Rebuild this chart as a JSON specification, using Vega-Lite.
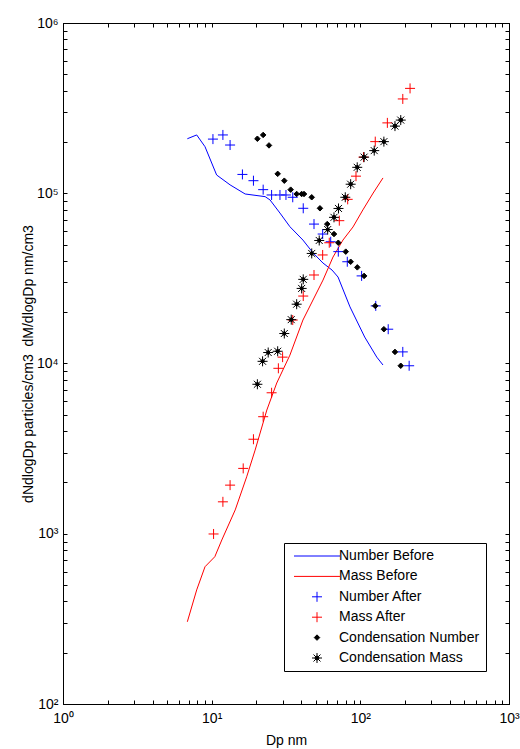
{
  "$schema": "https://vega.github.io/schema/vega-lite/v6.json",
  "width": 446,
  "height": 681,
  "autosize": {"type": "none"},
  "padding": {"left": 63, "top": 23, "right": 11, "bottom": 45},
  "background": "white",
  "config": {
    "font": "Liberation Sans",
    "view": {"stroke": "black", "strokeWidth": 1},
    "axis": {
      "grid": false,
      "domainColor": "black",
      "domainWidth": 1,
      "tickColor": "black",
      "tickWidth": 1,
      "tickSize": -4,
      "labelColor": "black",
      "titleColor": "black",
      "labelFont": "Liberation Sans",
      "titleFont": "Liberation Sans",
      "labelFontSize": 14,
      "titleFontSize": 14,
      "titleFontWeight": "normal",
      "labelFlush": false,
      "labelOverlap": false,
      "labelBound": false
    },
    "legend": {
      "orient": "none",
      "legendX": 221,
      "legendY": 520,
      "strokeColor": "black",
      "fillColor": "white",
      "padding": 6,
      "labelFont": "Liberation Sans",
      "labelFontSize": 14,
      "labelColor": "black",
      "labelLimit": 400,
      "symbolSize": 100,
      "symbolStrokeWidth": 1,
      "rowPadding": 6.4,
      "labelOffset": 15,
      "symbolOffset": 20
    }
  },
  "datasets": {
    "d": [
      {"series": "Number Before", "dp": 6.86, "value": 209000},
      {"series": "Number Before", "dp": 7.93, "value": 220000},
      {"series": "Number Before", "dp": 9.02, "value": 187700},
      {"series": "Number Before", "dp": 10.8, "value": 128000},
      {"series": "Number Before", "dp": 13.3, "value": 112000},
      {"series": "Number Before", "dp": 16.8, "value": 99000},
      {"series": "Number Before", "dp": 22.9, "value": 95500},
      {"series": "Number Before", "dp": 24.7, "value": 91300},
      {"series": "Number Before", "dp": 28.8, "value": 76500},
      {"series": "Number Before", "dp": 33.6, "value": 63600},
      {"series": "Number Before", "dp": 41.1, "value": 53100},
      {"series": "Number Before", "dp": 48.1, "value": 44600},
      {"series": "Number Before", "dp": 56.1, "value": 38900},
      {"series": "Number Before", "dp": 64.5, "value": 35400},
      {"series": "Number Before", "dp": 70.8, "value": 32200},
      {"series": "Number Before", "dp": 85.2, "value": 21500},
      {"series": "Number Before", "dp": 107, "value": 14300},
      {"series": "Number Before", "dp": 129, "value": 10900},
      {"series": "Number Before", "dp": 142, "value": 9800},
      {"series": "Mass Before", "dp": 6.86, "value": 304},
      {"series": "Mass Before", "dp": 7.93, "value": 468},
      {"series": "Mass Before", "dp": 9.02, "value": 640},
      {"series": "Mass Before", "dp": 10.5, "value": 733},
      {"series": "Mass Before", "dp": 11.7, "value": 919},
      {"series": "Mass Before", "dp": 14.4, "value": 1380},
      {"series": "Mass Before", "dp": 17.2, "value": 2160},
      {"series": "Mass Before", "dp": 19.6, "value": 3100},
      {"series": "Mass Before", "dp": 23.5, "value": 5330},
      {"series": "Mass Before", "dp": 27.4, "value": 7680},
      {"series": "Mass Before", "dp": 33.6, "value": 11200},
      {"series": "Mass Before", "dp": 41.1, "value": 18000},
      {"series": "Mass Before", "dp": 56.1, "value": 30900},
      {"series": "Mass Before", "dp": 65.5, "value": 42200},
      {"series": "Mass Before", "dp": 76.4, "value": 53100},
      {"series": "Mass Before", "dp": 89.3, "value": 63400},
      {"series": "Mass Before", "dp": 104, "value": 79800},
      {"series": "Mass Before", "dp": 122, "value": 100300},
      {"series": "Mass Before", "dp": 142, "value": 123000},
      {"series": "Number After", "dp": 10.2, "value": 208000},
      {"series": "Number After", "dp": 11.9, "value": 220000},
      {"series": "Number After", "dp": 13.3, "value": 192000},
      {"series": "Number After", "dp": 16.1, "value": 129000},
      {"series": "Number After", "dp": 19.1, "value": 118500},
      {"series": "Number After", "dp": 22.2, "value": 105000},
      {"series": "Number After", "dp": 25.3, "value": 97700},
      {"series": "Number After", "dp": 28.8, "value": 97700},
      {"series": "Number After", "dp": 31.6, "value": 97700},
      {"series": "Number After", "dp": 35.1, "value": 94700},
      {"series": "Number After", "dp": 41.3, "value": 81600},
      {"series": "Number After", "dp": 48.8, "value": 65900},
      {"series": "Number After", "dp": 55.8, "value": 57600},
      {"series": "Number After", "dp": 63.2, "value": 51900},
      {"series": "Number After", "dp": 71.1, "value": 45400},
      {"series": "Number After", "dp": 81.7, "value": 39600},
      {"series": "Number After", "dp": 102, "value": 32700},
      {"series": "Number After", "dp": 127, "value": 21800},
      {"series": "Number After", "dp": 154, "value": 15900},
      {"series": "Number After", "dp": 193, "value": 11700},
      {"series": "Number After", "dp": 213, "value": 9700},
      {"series": "Mass After", "dp": 10.3, "value": 997},
      {"series": "Mass After", "dp": 11.9, "value": 1540},
      {"series": "Mass After", "dp": 13.3, "value": 1930},
      {"series": "Mass After", "dp": 16.3, "value": 2420},
      {"series": "Mass After", "dp": 19.1, "value": 3590},
      {"series": "Mass After", "dp": 22.2, "value": 4870},
      {"series": "Mass After", "dp": 25.3, "value": 6730},
      {"series": "Mass After", "dp": 28.1, "value": 9370},
      {"series": "Mass After", "dp": 30.0, "value": 10900},
      {"series": "Mass After", "dp": 35.1, "value": 18000},
      {"series": "Mass After", "dp": 41.3, "value": 24900},
      {"series": "Mass After", "dp": 48.8, "value": 33100},
      {"series": "Mass After", "dp": 55.8, "value": 43400},
      {"series": "Mass After", "dp": 61.8, "value": 51200},
      {"series": "Mass After", "dp": 72.2, "value": 69000},
      {"series": "Mass After", "dp": 82.2, "value": 92100},
      {"series": "Mass After", "dp": 93.5, "value": 126000},
      {"series": "Mass After", "dp": 105, "value": 163000},
      {"series": "Mass After", "dp": 126, "value": 201000},
      {"series": "Mass After", "dp": 152, "value": 259000},
      {"series": "Mass After", "dp": 193, "value": 358000},
      {"series": "Mass After", "dp": 216, "value": 413000},
      {"series": "Condensation Number", "dp": 20.3, "value": 209000},
      {"series": "Condensation Number", "dp": 22.2, "value": 220000},
      {"series": "Condensation Number", "dp": 24.3, "value": 191000},
      {"series": "Condensation Number", "dp": 27.8, "value": 130000},
      {"series": "Condensation Number", "dp": 30.8, "value": 118500},
      {"series": "Condensation Number", "dp": 34.0, "value": 105000},
      {"series": "Condensation Number", "dp": 37.3, "value": 99000},
      {"series": "Condensation Number", "dp": 40.3, "value": 99000},
      {"series": "Condensation Number", "dp": 41.8, "value": 99000},
      {"series": "Condensation Number", "dp": 47.1, "value": 94700},
      {"series": "Condensation Number", "dp": 53.5, "value": 81600},
      {"series": "Condensation Number", "dp": 59.9, "value": 65900},
      {"series": "Condensation Number", "dp": 66.5, "value": 57600},
      {"series": "Condensation Number", "dp": 71.1, "value": 51200},
      {"series": "Condensation Number", "dp": 79.8, "value": 45400},
      {"series": "Condensation Number", "dp": 86.1, "value": 39600},
      {"series": "Condensation Number", "dp": 95.4, "value": 36700},
      {"series": "Condensation Number", "dp": 106, "value": 32700},
      {"series": "Condensation Number", "dp": 126, "value": 21800},
      {"series": "Condensation Number", "dp": 144, "value": 15900},
      {"series": "Condensation Number", "dp": 171, "value": 11700},
      {"series": "Condensation Number", "dp": 187, "value": 9700},
      {"series": "Condensation Mass", "dp": 20.3, "value": 7550},
      {"series": "Condensation Mass", "dp": 22.0, "value": 10300},
      {"series": "Condensation Mass", "dp": 24.0, "value": 11600},
      {"series": "Condensation Mass", "dp": 27.8, "value": 11800},
      {"series": "Condensation Mass", "dp": 30.8, "value": 15000},
      {"series": "Condensation Mass", "dp": 34.3, "value": 18100},
      {"series": "Condensation Mass", "dp": 37.3, "value": 22300},
      {"series": "Condensation Mass", "dp": 40.3, "value": 27600},
      {"series": "Condensation Mass", "dp": 41.3, "value": 31200},
      {"series": "Condensation Mass", "dp": 47.1, "value": 44300},
      {"series": "Condensation Mass", "dp": 52.9, "value": 52800},
      {"series": "Condensation Mass", "dp": 60.3, "value": 61200},
      {"series": "Condensation Mass", "dp": 66.5, "value": 72200},
      {"series": "Condensation Mass", "dp": 71.3, "value": 81400},
      {"series": "Condensation Mass", "dp": 79.2, "value": 94700},
      {"series": "Condensation Mass", "dp": 86.1, "value": 113000},
      {"series": "Condensation Mass", "dp": 95.3, "value": 142000},
      {"series": "Condensation Mass", "dp": 106, "value": 163000},
      {"series": "Condensation Mass", "dp": 124, "value": 178000},
      {"series": "Condensation Mass", "dp": 144, "value": 201000},
      {"series": "Condensation Mass", "dp": 171, "value": 248000},
      {"series": "Condensation Mass", "dp": 187, "value": 269000}
    ]
  },
  "data": {"name": "d"},
  "layer": [
    {
      "layer": [
        {
          "transform": [{"filter": "datum.series === 'Number Before' || datum.series === 'Mass Before'"}],
          "mark": {"type": "line", "strokeWidth": 1},
          "encoding": {
            "x": {
              "field": "dp", "type": "quantitative",
              "scale": {"type": "log", "domain": [1, 1000], "nice": false},
              "axis": {
                "orient": "bottom",
                "title": "Dp nm",
                "values": [1,2,3,4,5,6,7,8,9,10,20,30,40,50,60,70,80,90,100,200,300,400,500,600,700,800,900,1000],
                "labelExpr": "abs(log(datum.value)/LN10 - round(log(datum.value)/LN10)) < 0.001 ? '10' + ['⁰','¹','²','³','⁴','⁵','⁶'][round(log(datum.value)/LN10)] : ''",
                "labelPadding": 11,
                "titlePadding": 8
              }
            },
            "y": {
              "field": "value", "type": "quantitative",
              "scale": {"type": "log", "domain": [100, 1000000], "nice": false},
              "axis": {
                "orient": "left",
                "title": "dNdlogDp particles/cm3 \u00a0dM/dlogDp nm/cm3",
                "values": [100,200,300,400,500,600,700,800,900,1000,2000,3000,4000,5000,6000,7000,8000,9000,10000,20000,30000,40000,50000,60000,70000,80000,90000,100000,200000,300000,400000,500000,600000,700000,800000,900000,1000000],
                "labelExpr": "abs(log(datum.value)/LN10 - round(log(datum.value)/LN10)) < 0.001 ? '10' + ['⁰','¹','²','³','⁴','⁵','⁶'][round(log(datum.value)/LN10)] : ''",
                "labelPadding": 9,
                "titlePadding": 1
              }
            },
            "color": {
              "field": "series", "type": "nominal", "title": null,
              "scale": {
                "domain": ["Number Before", "Mass Before", "Number After", "Mass After", "Condensation Number", "Condensation Mass"],
                "range": ["#0000ff", "#ff0000", "#0000ff", "#ff0000", "#000000", "#000000"]
              }
            }
          }
        },
        {
          "transform": [{"filter": "datum.series !== 'Number Before' && datum.series !== 'Mass Before'"}],
          "mark": {"type": "point", "filled": false, "fill": "black", "strokeWidth": 1, "size": 100, "opacity": 1},
          "encoding": {
            "x": {"field": "dp", "type": "quantitative"},
            "y": {"field": "value", "type": "quantitative"},
            "color": {"field": "series", "type": "nominal", "title": null},
            "shape": {
              "field": "series", "type": "nominal", "title": null,
              "scale": {
                "domain": ["Number Before", "Mass Before", "Number After", "Mass After", "Condensation Number", "Condensation Mass"],
                "range": [
                  "M-4.6,0H4.6",
                  "M-4.6,0H4.6",
                  "M-1,0H1M0,-1V1",
                  "M-1,0H1M0,-1V1",
                  "M-0.55,0L0,-0.55L0.55,0L0,0.55Z",
                  "M-1,0H1M0,-1V1M-0.7,-0.7L0.7,0.7M-0.7,0.7L0.7,-0.7M-0.45,0L0,-0.45L0.45,0L0,0.45Z"
                ]
              }
            }
          }
        }
      ]
    },
    {
      "mark": {"type": "point", "opacity": 0},
      "encoding": {
        "x": {
          "field": "dp", "type": "quantitative",
          "axis": {
            "orient": "top", "title": null, "labels": false,
            "values": [1,2,3,4,5,6,7,8,9,10,20,30,40,50,60,70,80,90,100,200,300,400,500,600,700,800,900,1000]
          }
        },
        "y": {
          "field": "value", "type": "quantitative",
          "axis": {
            "orient": "right", "title": null, "labels": false,
            "values": [100,200,300,400,500,600,700,800,900,1000,2000,3000,4000,5000,6000,7000,8000,9000,10000,20000,30000,40000,50000,60000,70000,80000,90000,100000,200000,300000,400000,500000,600000,700000,800000,900000,1000000]
          }
        }
      }
    }
  ],
  "resolve": {"axis": {"x": "independent", "y": "independent"}}
}
